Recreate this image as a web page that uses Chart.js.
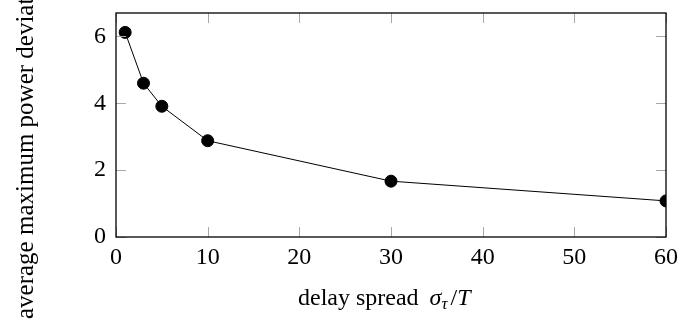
<!DOCTYPE html>
<html>
<head>
<meta charset="utf-8">
<script src="https://cdn.jsdelivr.net/npm/chart.js@4"></script>
<style>
  html, body { margin: 0; padding: 0; background: #fff; }
  #wrap { width: 694px; height: 323px; }
</style>
</head>
<body>
<div id="wrap"><canvas id="grafico" width="694" height="323"></canvas></div>
<script>
// datos
const retardos = [1, 3, 5, 10, 30, 60];
const desviacion = [6.12, 4.6, 3.91, 2.88, 1.67, 1.08];
const ticksX = [0, 10, 20, 30, 40, 50, 60];
const ticksY = [0, 2, 4, 6];
const tituloY = 'average maximum power deviation';

const fuente = "'Liberation Serif', 'Times New Roman', serif";

// marco, marcas interiores y titulos de los ejes
const marcoPlugin = {
  id: 'marco',
  afterDraw(chart) {
    const ctx = chart.ctx;
    const a = chart.chartArea;
    const sx = chart.scales.x, sy = chart.scales.y;
    ctx.save();
    ctx.strokeStyle = '#a8a8a8';
    ctx.lineWidth = 1;
    ctx.beginPath();
    ticksX.forEach(v => {
      const px = Math.round(sx.getPixelForValue(v)) + 0.5;
      ctx.moveTo(px, a.bottom); ctx.lineTo(px, a.bottom - 10);
      ctx.moveTo(px, a.top); ctx.lineTo(px, a.top + 10);
    });
    ticksY.forEach(v => {
      const py = Math.round(sy.getPixelForValue(v)) + 0.5;
      ctx.moveTo(a.left, py); ctx.lineTo(a.left + 10, py);
      ctx.moveTo(a.right, py); ctx.lineTo(a.right - 10, py);
    });
    ctx.stroke();

    ctx.strokeStyle = '#000';
    ctx.lineWidth = 1.3;
    ctx.strokeRect(a.left, a.top, a.right - a.left, a.bottom - a.top);

    // titulo eje x: delay spread σ_τ/T
    ctx.fillStyle = '#000';
    ctx.textBaseline = 'alphabetic';
    const partes = [
      { t: 'delay spread ', f: '24px ' + fuente, dy: 0, ex: 5 },
      { t: 'σ', f: 'italic 24px ' + fuente, dy: 0, ex: 0 },
      { t: 'τ', f: 'italic 17px ' + fuente, dy: 4, ex: 3 },
      { t: '/', f: '24px ' + fuente, dy: 0, ex: 0 },
      { t: 'T', f: 'italic 24px ' + fuente, dy: 0, ex: 0 }
    ];
    let x = 298;
    const base = 305;
    partes.forEach(p => {
      ctx.font = p.f;
      ctx.fillText(p.t, x, base + p.dy);
      x += ctx.measureText(p.t).width + p.ex;
    });

    // titulo eje y (recortado arriba como en el original)
    ctx.translate(33, 319);
    ctx.rotate(-Math.PI / 2);
    ctx.font = '25px ' + fuente;
    ctx.textAlign = 'left';
    ctx.fillText(tituloY, 0, 0);
    ctx.restore();
  }
};

new Chart(document.getElementById('grafico'), {
  type: 'line',
  data: {
    datasets: [{
      data: retardos.map((r, i) => ({ x: r, y: desviacion[i] })),
      borderColor: '#000',
      borderWidth: 1,
      backgroundColor: '#000',
      pointBackgroundColor: '#000',
      pointBorderColor: '#000',
      pointRadius: 6,
      tension: 0
    }]
  },
  options: {
    responsive: false,
    animation: false,
    layout: { padding: { left: 0, right: 28, top: 13, bottom: 0 } },
    plugins: { legend: { display: false }, tooltip: { enabled: false } },
    scales: {
      x: {
        type: 'linear',
        min: 0,
        max: 60,
        afterBuildTicks: s => { s.ticks = ticksX.map(v => ({ value: v })); },
        afterFit: s => { s.height = 323 - 237; },
        grid: { display: false, drawTicks: false },
        border: { display: false },
        ticks: { color: '#000', font: { family: fuente, size: 24 }, padding: 6, maxRotation: 0 }
      },
      y: {
        min: 0,
        max: 6.7,
        afterBuildTicks: s => { s.ticks = ticksY.map(v => ({ value: v })); },
        afterFit: s => { s.width = 116; s.paddingTop = 0; s.paddingBottom = 0; },
        grid: { display: false, drawTicks: false },
        border: { display: false },
        ticks: { color: '#000', font: { family: fuente, size: 24 }, padding: 10 }
      }
    }
  },
  plugins: [marcoPlugin]
});
</script>
</body>
</html>
